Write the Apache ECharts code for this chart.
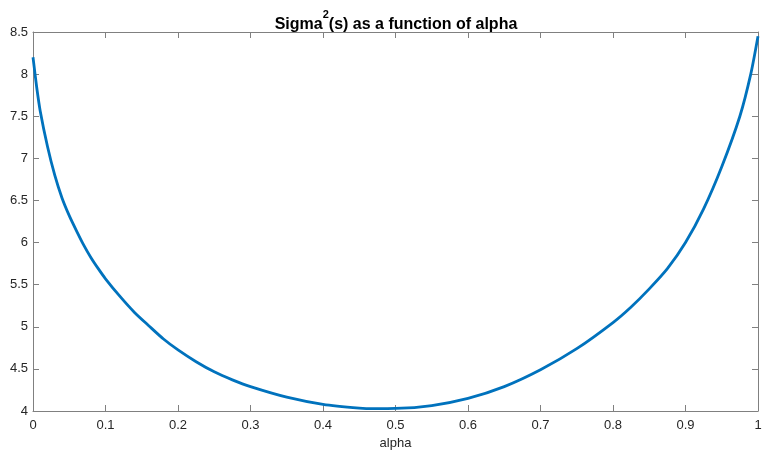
<!DOCTYPE html>
<html>
<head>
<meta charset="utf-8">
<title>Sigma^2(s) as a function of alpha</title>
<script src="https://cdn.jsdelivr.net/npm/echarts@6/dist/echarts.min.js"></script>
<style>
  html, body { margin: 0; padding: 0; background: #ffffff; }
  #chart { width: 772px; height: 454px; }
</style>
</head>
<body>
<div id="chart"></div>
<script>
// Portfolio weight alpha and the resulting variance Sigma^2(s)
var alpha = [0, 0.005, 0.01, 0.02, 0.03, 0.04, 0.05, 0.06, 0.07, 0.08,
             0.09, 0.1, 0.12, 0.14, 0.16, 0.18, 0.2, 0.225, 0.25, 0.275,
             0.3, 0.35, 0.4, 0.45, 0.47, 0.5, 0.55, 0.6, 0.65, 0.7,
             0.75, 0.8, 0.825, 0.85, 0.875, 0.9, 0.925, 0.95, 0.975, 0.99, 1];
var sigma2 = [8.2, 7.85, 7.56, 7.14, 6.8, 6.53, 6.32, 6.14, 5.97, 5.82,
              5.69, 5.57, 5.36, 5.17, 5.01, 4.855, 4.725, 4.585, 4.465, 4.37,
              4.29, 4.165, 4.08, 4.035, 4.028, 4.03, 4.065, 4.15, 4.29, 4.49,
              4.74, 5.05, 5.235, 5.45, 5.69, 6.0, 6.4, 6.9, 7.5, 8.0, 8.45];

// Axis ranges and tick spacing
var xRange = [0, 1], xStep = 0.1;
var yRange = [4, 8.5], yStep = 0.5;

var points = alpha.map(function (a, i) { return [a, sigma2[i]]; });

var axisGray = '#808080';
var textColor = '#262626';
var font = 'Liberation Sans, Arial, Helvetica, sans-serif';

function boxAxis(extra) {
  var base = {
    type: 'value',
    axisLine: { show: true, onZero: false, lineStyle: { color: axisGray, width: 1 } },
    axisTick: { show: true, inside: true, length: 6, lineStyle: { color: axisGray, width: 1 } },
    splitLine: { show: false },
    axisLabel: { color: textColor, fontFamily: font, fontSize: 13 }
  };
  for (var k in extra) base[k] = extra[k];
  return base;
}

var chart = echarts.init(document.getElementById('chart'), null, { renderer: 'canvas' });
chart.setOption({
  animation: false,
  backgroundColor: '#ffffff',
  title: {
    text: '{t|Sigma}{s|2}{t|(s) as a function of alpha}',
    left: 391,
    top: 4,
    textAlign: 'center',
    textStyle: {
      rich: {
        t: { fontFamily: font, fontSize: 16, fontWeight: 'bold', color: '#000000', verticalAlign: 'bottom', lineHeight: 24 },
        s: { fontFamily: font, fontSize: 11, fontWeight: 'bold', color: '#000000', verticalAlign: 'top', lineHeight: 24, padding: [0, 0, 9, 0] }
      }
    }
  },
  grid: { left: 33, right: 14, top: 32, bottom: 43, containLabel: false, outerBoundsMode: 'none' },
  xAxis: [
    boxAxis({
      position: 'bottom',
      min: xRange[0], max: xRange[1], interval: xStep,
      name: 'alpha', nameLocation: 'middle', nameGap: 25,
      nameTextStyle: { color: textColor, fontFamily: font, fontSize: 13 },
      axisLabel: { color: textColor, fontFamily: font, fontSize: 13, margin: 8 }
    }),
    boxAxis({
      position: 'top',
      min: xRange[0], max: xRange[1], interval: xStep,
      axisLabel: { show: false }
    })
  ],
  yAxis: [
    boxAxis({
      position: 'left',
      min: yRange[0], max: yRange[1], interval: yStep,
      axisLabel: { color: textColor, fontFamily: font, fontSize: 13, margin: 5 }
    }),
    boxAxis({
      position: 'right',
      min: yRange[0], max: yRange[1], interval: yStep,
      axisLabel: { show: false }
    })
  ],
  series: [{
    type: 'line',
    xAxisIndex: 0,
    yAxisIndex: 0,
    data: points,
    showSymbol: false,
    smooth: 0.25,
    lineStyle: { color: '#0072BD', width: 2.8 },
    clip: false
  }]
});
</script>
</body>
</html>
